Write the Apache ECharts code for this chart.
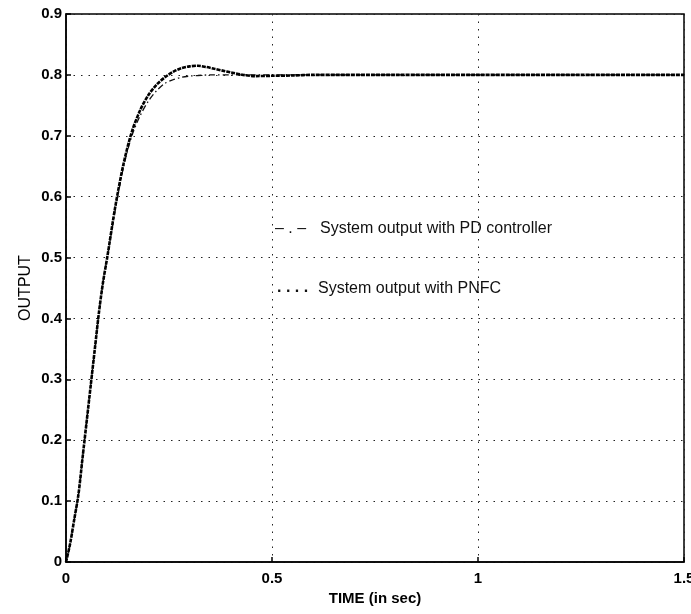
<!DOCTYPE html>
<html>
<head>
<meta charset="utf-8">
<script src="https://cdn.jsdelivr.net/npm/echarts@6/dist/echarts.min.js"></script>
<style>
  html, body { margin: 0; padding: 0; background: #fff; }
  #chart { width: 691px; height: 614px; }
</style>
</head>
<body>
<div id="chart"></div>
<script>
// time samples (s) and outputs
const timePD = [0, 0.01, 0.02, 0.03, 0.04, 0.05, 0.06, 0.07, 0.08, 0.09, 0.10, 0.12, 0.14, 0.16, 0.18, 0.20, 0.22, 0.24, 0.26, 0.28, 0.30, 0.32, 0.35, 0.40, 0.50, 0.60, 0.80, 1.00, 1.20, 1.50]
const outPD = [0, 0.03, 0.07, 0.11, 0.17, 0.23, 0.29, 0.35, 0.41, 0.46, 0.50, 0.58, 0.65, 0.70, 0.733, 0.757, 0.774, 0.786, 0.792, 0.796, 0.798, 0.799, 0.800, 0.800, 0.800, 0.800, 0.800, 0.800, 0.800, 0.800]

const timePNFC = [0, 0.01, 0.02, 0.03, 0.04, 0.05, 0.06, 0.07, 0.08, 0.09, 0.10, 0.12, 0.14, 0.16, 0.18, 0.20, 0.22, 0.24, 0.26, 0.28, 0.30, 0.32, 0.34, 0.36, 0.38, 0.40, 0.43, 0.46, 0.50, 0.55, 0.60, 0.80, 1.00, 1.20, 1.50]
const outPNFC = [0, 0.03, 0.07, 0.11, 0.17, 0.23, 0.29, 0.35, 0.41, 0.46, 0.50, 0.585, 0.655, 0.707, 0.742, 0.767, 0.784, 0.796, 0.805, 0.811, 0.814, 0.815, 0.813, 0.810, 0.807, 0.804, 0.800, 0.798, 0.7985, 0.799, 0.800, 0.800, 0.800, 0.800, 0.800]

const xTicks = ['0', '0.5', '1', '1.5']
const yTicks = ['0', '0.1', '0.2', '0.3', '0.4', '0.5', '0.6', '0.7', '0.8', '0.9']
const legendNames = ['System output with PD controller', 'System output with PNFC']

const zip = (xs, ys) => xs.map((x, i) => [x, ys[i]])

const chart = echarts.init(document.getElementById('chart'))

const FONT = 'Arial, Liberation Sans, sans-serif'
const axisText = { color: '#000', fontFamily: FONT, fontSize: 15, fontWeight: 'bold' }

chart.setOption({
  animation: false,
  grid: {
    left: 66, right: 7, top: 14, bottom: 52,
    outerBoundsMode: 'none', containLabel: false,
    show: true, borderColor: '#000', borderWidth: 1.5
  },
  xAxis: {
    type: 'value', min: 0, max: 1.5, interval: 0.5,
    name: 'TIME (in sec)', nameLocation: 'middle', nameGap: 29, nameMoveOverlap: false,
    nameTextStyle: { ...axisText, fontSize: 15 },
    axisLine: { lineStyle: { color: '#000', width: 1.5 } },
    axisTick: { inside: true, length: 5, lineStyle: { color: '#000', width: 1.5 } },
    axisLabel: { ...axisText, margin: 9, formatter: v => xTicks[Math.round(v / 0.5)] },
    splitLine: { show: true, lineStyle: { color: '#222', width: 1, type: [1.5, 6] } }
  },
  yAxis: {
    type: 'value', min: 0, max: 0.9, interval: 0.1,
    name: 'OUTPUT', nameLocation: 'middle', nameGap: 32, nameRotate: 90, nameMoveOverlap: false,
    nameTextStyle: { ...axisText, fontWeight: 'normal', fontSize: 16 },
    axisLine: { lineStyle: { color: '#000', width: 1.5 } },
    axisTick: { inside: true, length: 5, lineStyle: { color: '#000', width: 1.5 } },
    axisLabel: { ...axisText, margin: 4, formatter: v => yTicks[Math.round(v * 10)] },
    splitLine: { show: true, lineStyle: { color: '#222', width: 1, type: [1.5, 6] } }
  },
  graphic: [
    { type: 'text', left: 275, top: 221, style: { text: '– . –', fill: '#111', font: '16px ' + FONT } },
    { type: 'text', left: 320, top: 221, style: { text: legendNames[0], fill: '#111', font: '16px ' + FONT } },
    { type: 'text', left: 277, top: 280, style: { text: '. . . .', fill: '#111', font: 'bold 16px ' + FONT } },
    { type: 'text', left: 318, top: 281, style: { text: legendNames[1], fill: '#111', font: '16px ' + FONT } }
  ],
  series: [
    {
      name: legendNames[0], type: 'line', data: zip(timePD, outPD),
      showSymbol: false, smooth: 0.3,
      lineStyle: { color: '#111', width: 1.3, type: [6, 3, 1.5, 3] }
    },
    {
      name: legendNames[1], type: 'line', data: zip(timePNFC, outPNFC),
      showSymbol: false, smooth: 0.3,
      lineStyle: { color: '#000', width: 2.6, type: [4, 1] }
    }
  ]
})
</script>
</body>
</html>
